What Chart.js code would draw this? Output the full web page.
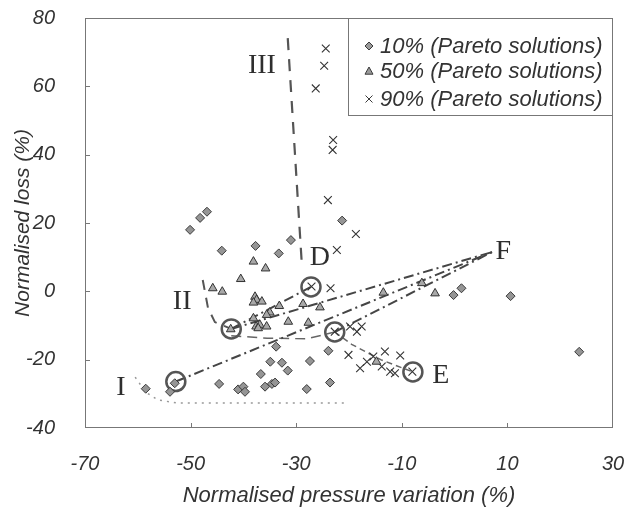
<!DOCTYPE html>
<html>
<head>
<meta charset="utf-8">
<script src="https://cdn.jsdelivr.net/npm/chart.js@4.4.1/dist/chart.umd.min.js"></script>
<style>
  body { margin: 0; background: #fff; }
  #wrap { width: 627px; height: 514px; }
</style>
</head>
<body>
<div id="wrap"><canvas id="paretoChart"></canvas></div>
<script>
// axis ticks
const xTicks = [-70, -50, -30, -10, 10, 30];
const yTicks = [-40, -20, 0, 20, 40, 60, 80];

// Pareto solutions, [pressure variation %, loss %]
const pareto10 = [
  [-50.1, 18.0], [-48.2, 21.5], [-46.9, 23.3], [-44.1, 11.9], [-37.7, 13.3],
  [-33.3, 11.1], [-31.0, 15.0], [-21.3, 20.7], [10.6, -1.4], [23.6, -17.7],
  [-0.2, -1.1], [1.3, 0.9], [-23.9, -17.4], [-27.4, -20.4], [-28.0, -28.6],
  [-23.6, -26.7], [-33.8, -16.2], [-34.9, -20.6], [-32.7, -20.9], [-31.6, -23.2],
  [-36.7, -24.2], [-44.6, -27.1], [-41.0, -28.7], [-40.0, -27.9], [-39.7, -29.4],
  [-35.9, -27.9], [-34.6, -27.1], [-34.0, -26.7], [-58.5, -28.5], [-53.9, -29.4],
  [-53.0, -26.9]
];
const pareto50 = [
  [-38.1, 8.7], [-35.8, 6.7], [-40.5, 3.6], [-45.8, 0.9], [-44.0, -0.1],
  [-37.8, -1.6], [-37.5, -2.5], [-36.5, -3.0], [-38.1, -3.3], [-33.2, -4.3],
  [-35.0, -6.2], [-35.6, -6.9], [-38.1, -7.9], [-37.6, -10.3], [-36.9, -9.8],
  [-35.6, -10.3], [-37.2, -10.8], [-31.5, -8.9], [-27.7, -9.2], [-42.4, -11.1],
  [-28.7, -3.7], [-25.5, -4.7], [-13.5, -0.4], [-6.2, 2.4], [-3.7, -0.6],
  [-14.8, -20.6]
];
const pareto90 = [
  [-24.4, 71.1], [-24.7, 66.0], [-26.3, 59.4], [-23.0, 44.3], [-23.1, 41.4],
  [-24.0, 26.7], [-18.7, 16.8], [-22.3, 12.1], [-27.1, 1.4], [-23.5, 0.9],
  [-22.7, -11.8], [-19.8, -10.3], [-17.6, -10.3], [-18.5, -11.8], [-20.1, -18.6],
  [-15.4, -19.1], [-13.2, -17.6], [-10.3, -18.8], [-17.9, -22.5], [-13.8, -22.0],
  [-12.2, -23.5], [-11.3, -24.0], [-8.0, -23.5], [-16.6, -20.6]
];

// selected solutions (circled)
const picked = [[-52.8, -26.4], [-42.3, -11.0], [-27.2, 1.3], [-22.7, -11.9], [-7.9, -23.6]];

// annotation paths
const pathIF = [[-52.8, -26.4], [7.1, 11.5]];
const pathIIF = [[-42.3, -11.0], [7.1, 11.5]];
const pathCF = [[-22.7, -11.9], [7.1, 11.5]];
const pathIID = [[-42.3, -11.0], [-27.2, 1.3]];
const pathCE = [[-22.7, -11.9], [-19.5, -15.5], [-14.0, -20.0], [-7.9, -23.6]];
const pathIIC = [[-42.3, -13.0], [-35.5, -13.7], [-28.0, -13.9], [-22.7, -11.9]];
const pathII = [[-47.7, 3.3], [-46.7, -4.9], [-45.4, -9.0], [-42.3, -11.0]];
const pathIII = [[-31.6, 74.1], [-28.9, 7.1]];
const pathI = [[-60.5, -25.1], [-58.5, -29.5], [-56.2, -31.8], [-52.4, -32.7], [-20.4, -32.7]];

// region labels
const regionNames = ['I', 'II', 'III', 'D', 'E', 'F'];
const regionPos = [[-63.2, -28.3], [-51.6, -3.1], [-36.5, 66.0], [-25.5, 9.8], [-2.6, -24.8], [9.2, 11.5]];

const legendNames = ['10% (Pareto solutions)', '50% (Pareto solutions)', '90% (Pareto solutions)'];

const toXY = arr => arr.map(p => ({ x: p[0], y: p[1] }));
const ink = '#333';
const family = '"Liberation Sans", Arial, sans-serif';
Chart.defaults.font.family = family;
Chart.defaults.font.style = 'italic';
Chart.defaults.font.size = 20;

function pathSet(arr, dash, width, color) {
  return {
    data: toXY(arr), showLine: true, pointRadius: 0, borderColor: color || '#454545',
    borderWidth: width, borderDash: dash, fill: false, tension: 0
  };
}

function marker(ctx, kind, x, y, r) {
  ctx.save();
  ctx.lineWidth = 1;
  ctx.strokeStyle = '#3a3a3a';
  ctx.fillStyle = '#9a9a9a';
  ctx.beginPath();
  if (kind === 0) {
    ctx.moveTo(x, y - r); ctx.lineTo(x + r, y); ctx.lineTo(x, y + r); ctx.lineTo(x - r, y); ctx.closePath();
    ctx.fill(); ctx.stroke();
  } else if (kind === 1) {
    ctx.moveTo(x, y - r); ctx.lineTo(x + r, y + r * 0.8); ctx.lineTo(x - r, y + r * 0.8); ctx.closePath();
    ctx.fill(); ctx.stroke();
  } else {
    ctx.moveTo(x - r, y - r); ctx.lineTo(x + r, y + r);
    ctx.moveTo(x + r, y - r); ctx.lineTo(x - r, y + r);
    ctx.stroke();
  }
  ctx.restore();
}

const decorations = {
  id: 'decorations',
  afterDraw(chart) {
    const { ctx, chartArea: a, scales: { x, y } } = chart;
    ctx.save();
    // plot frame
    ctx.strokeStyle = '#777';
    ctx.lineWidth = 1;
    ctx.strokeRect(a.left + 0.5, a.top + 0.5, a.right - a.left - 1, a.bottom - a.top - 1);
    // inside tick marks
    ctx.beginPath();
    x.ticks.forEach(t => {
      const px = Math.round(x.getPixelForValue(t.value)) + 0.5;
      if (px > a.left + 2 && px < a.right - 2) { ctx.moveTo(px, a.bottom); ctx.lineTo(px, a.bottom - 5); }
    });
    y.ticks.forEach(t => {
      const py = Math.round(y.getPixelForValue(t.value)) + 0.5;
      if (py > a.top + 2 && py < a.bottom - 2) { ctx.moveTo(a.left, py); ctx.lineTo(a.left + 5, py); }
    });
    ctx.stroke();

    // region labels
    ctx.fillStyle = '#2e2e2e';
    ctx.font = '28px "Liberation Serif", "Times New Roman", serif';
    ctx.textAlign = 'center';
    ctx.textBaseline = 'middle';
    regionNames.forEach((n, i) => {
      ctx.fillText(n, x.getPixelForValue(regionPos[i][0]), y.getPixelForValue(regionPos[i][1]));
    });

    // legend box
    const left = a.right - 265, top = a.top, h = 97;
    ctx.fillStyle = '#fff';
    ctx.fillRect(left, top, a.right - left, h);
    ctx.strokeStyle = '#777';
    ctx.strokeRect(left + 0.5, top + 0.5, a.right - left - 1, h);
    const rows = [28, 53, 81];
    ctx.font = 'italic 22px ' + family;
    ctx.textAlign = 'left';
    legendNames.forEach((n, i) => {
      marker(ctx, i, left + 21, top + rows[i], i === 2 ? 3.5 : 4);
      ctx.fillStyle = ink;
      ctx.fillText(n, left + 32, top + rows[i] + 1);
    });
    ctx.restore();
  }
};

// tick marks are kept invisible; their length only spaces the labels from the frame
const hiddenGrid = len => ({
  display: true, drawOnChartArea: false, drawTicks: true,
  tickLength: len, color: 'rgba(0,0,0,0)', tickColor: 'rgba(0,0,0,0)'
});

new Chart(document.getElementById('paretoChart'), {
  type: 'scatter',
  data: {
    datasets: [
      {
        label: legendNames[0], data: toXY(pareto10), pointStyle: 'rectRot', pointRadius: 4.5,
        backgroundColor: '#959595', borderColor: '#3a3a3a', borderWidth: 1
      },
      {
        label: legendNames[1], data: toXY(pareto50), pointStyle: 'triangle', pointRadius: 5,
        backgroundColor: '#a8a8a8', borderColor: '#333', borderWidth: 1
      },
      {
        label: legendNames[2], data: toXY(pareto90), pointStyle: 'crossRot', pointRadius: 5.5,
        borderColor: '#333', borderWidth: 1.1
      },
      {
        label: 'picked', data: toXY(picked), pointStyle: 'circle', pointRadius: 9.5,
        backgroundColor: 'rgba(0,0,0,0)', borderColor: '#555', borderWidth: 2.5
      },
      pathSet(pathIF, [10, 4, 2, 4], 2),
      pathSet(pathIIF, [10, 4, 2, 4], 2),
      pathSet(pathCF, [10, 4, 2, 4], 2),
      pathSet(pathIID, [10, 4, 2, 4], 2),
      pathSet(pathCE, [6, 4], 1.5, '#666'),
      pathSet(pathIIC, [10, 6], 1.5, '#666'),
      pathSet(pathII, [10, 8], 2, '#555'),
      pathSet(pathIII, [12, 9], 2.2, '#555'),
      pathSet(pathI, [2, 5], 1.5, '#999')
    ]
  },
  options: {
    responsive: true,
    maintainAspectRatio: false,
    animation: false,
    layout: { padding: { top: 18, right: 14, left: 0, bottom: 0 } },
    plugins: { legend: { display: false }, tooltip: { enabled: false } },
    scales: {
      x: {
        type: 'linear', min: -70, max: 30,
        afterBuildTicks: s => { s.ticks = xTicks.map(v => ({ value: v })); },
        afterFit: s => { s.height = 86; },
        grid: hiddenGrid(24),
        border: { display: false },
        ticks: { padding: 0, color: ink, font: { size: 20, style: 'italic' } },
        title: {
          display: true, text: 'Normalised pressure variation (%)', color: ink,
          font: { size: 22, style: 'italic' }, padding: { top: 0, bottom: 5 }
        }
      },
      y: {
        type: 'linear', min: -40, max: 80,
        afterBuildTicks: s => { s.ticks = yTicks.map(v => ({ value: v })); },
        afterFit: s => { s.width = 85; },
        grid: hiddenGrid(30),
        border: { display: false },
        ticks: { padding: 0, color: ink, font: { size: 20, style: 'italic' } },
        title: {
          display: true, text: 'Normalised loss (%)', color: ink,
          font: { size: 21, style: 'italic' }, padding: { top: 11, bottom: 0 }
        }
      }
    }
  },
  plugins: [decorations]
});
</script>
</body>
</html>
